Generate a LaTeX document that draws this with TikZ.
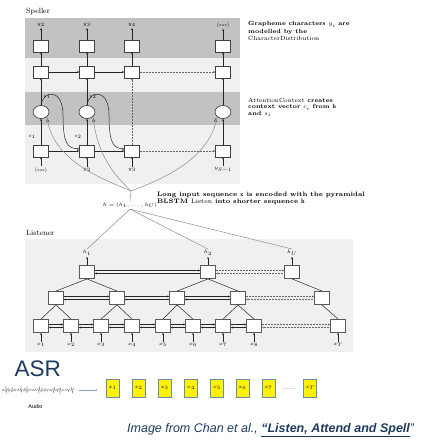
\documentclass[tikz,border=0pt]{standalone}
\usepackage{fontspec}
\newfontfamily\arial{Liberation Sans}
\usetikzlibrary{arrows.meta,shapes.geometric}
\definecolor{bandD}{gray}{0.76}
\definecolor{bandL}{gray}{0.94}
\definecolor{navy}{HTML}{1F3A5F}
\definecolor{boxblue}{HTML}{6A8CAA}
\begin{document}
\begin{tikzpicture}[x=1pt,y=-1pt,
 box/.style={draw=black!75, line width=0.7pt, fill=white, minimum width=15pt, minimum height=12pt, inner sep=0pt},
 lbox/.style={draw=black!65, line width=0.8pt, fill=white, minimum width=15pt, minimum height=13pt, inner sep=0pt},
 ell/.style={ellipse, draw=black!75, line width=0.7pt, fill=white, minimum width=16pt, minimum height=13pt, inner sep=0pt},
 arr/.style={-{Stealth[length=2pt,width=2pt]}, line width=0.5pt, black!85},
 dotarr/.style={arr, densely dotted, black!60},
 conn/.style={line width=0.5pt, black!85},
 graycurve/.style={line width=0.5pt, black!45},
 lbl/.style={font=\fontsize{4.2}{4.2}\selectfont, inner sep=1.2pt},
 note/.style={font=\fontsize{6}{7.5}\selectfont\bfseries, align=left, anchor=north west, inner sep=0pt},
 ybox/.style={draw=boxblue, line width=0.6pt, fill=yellow, minimum width=13pt, minimum height=18pt, inner sep=0pt, font=\fontsize{3.5}{3.5}\selectfont}
]
\useasboundingbox (0,0) rectangle (427,441);

% ---------- Speller ----------
\node[anchor=base west, font=\fontsize{7.5}{8}\selectfont, inner sep=0pt] (spl) at (26,14) {Speller};
\fill[bandD] (25,18) rectangle (240,58);
\fill[bandL] (25,58) rectangle (240,92);
\fill[bandD] (25,92) rectangle (240,125);
\fill[bandL] (25,125) rectangle (240,184);

\foreach \i/\x in {1/41,2/87,3/132,4/223} {
  \node[box] (t\i) at (\x,46) {};
  \node[box] (m\i) at (\x,72) {};
  \node[box] (b\i) at (\x,151) {};
}
\foreach \i/\x in {1/41,2/87,4/223} { \node[ell] (e\i) at (\x,112) {}; }

\node[lbl] (ly1) at (41,25) {$y_2$};
\node[lbl] (ly2) at (87,25) {$y_3$};
\node[lbl] (ly3) at (132,25) {$y_4$};
\node[lbl] (ly4) at (223,25) {$\langle\mathrm{eos}\rangle$};
\node[lbl] (lb1) at (41,170) {$\langle\mathrm{sos}\rangle$};
\node[lbl] (lb2) at (87,170) {$y_2$};
\node[lbl] (lb3) at (132,170) {$y_3$};
\node[lbl] (lb4) at (223,170) {$y_{S-1}$};

\foreach \i in {1,2,3,4} {
  \draw[arr] (t\i) -- (ly\i);
  \draw[arr] (m\i) -- (t\i);
  \draw[arr] (lb\i) -- (b\i);
}
\foreach \i in {1,2,4} {
  \draw[arr] (b\i) -- (e\i);
  \draw[arr] (e\i) -- (m\i);
}
\draw[dotarr] (b3) -- (m3);
\draw[arr] (m1) -- (m2); \draw[arr] (m2) -- (m3); \draw[dotarr] (m3) -- (m4);
\draw[arr] (b1) -- (b2); \draw[arr] (b2) -- (b3); \draw[dotarr] (b3) -- (b4);

% context curves
\draw[arr] (e1.north) .. controls (43,90) and (63,88) .. (63,115) .. controls (63,145) and (68,148) .. ([yshift=2pt]b2.west);
\draw[arr] (e2.north) .. controls (89,90) and (109,88) .. (109,115) .. controls (109,145) and (114,148) .. ([yshift=2pt]b3.west);

\node[lbl] (c1) at (47,97) {$c_1$};
\node[lbl] (c2) at (93,97) {$c_2$};
\node[lbl] (hl1) at (48,121) {$h$};
\node[lbl] (hl2) at (94,121) {$h$};
\node[lbl] (hl4) at (216,121) {$h$};
\node[lbl] (s1) at (32,137) {$s_1$};
\node[lbl] (s2) at (78,137) {$s_2$};

% attention curves to h
\coordinate (fork) at (131,191);
\draw[graycurve] (e1.south east) .. controls (52,160) and (100,178) .. (fork);
\draw[graycurve] (e2.south east) .. controls (98,160) and (118,178) .. (fork);
\draw[graycurve] (e4.south west) .. controls (210,160) and (160,180) .. (fork);
\node[lbl, font=\fontsize{4.2}{4.2}\selectfont] (hseq) at (130,205) {$h=(h_1,\ldots,h_U)$};
\draw[graycurve] (fork) -- (hseq.north);

% notes
\node[note] (n1) at (248,21.5) {Grapheme characters $y_i$ are\\modelled by the\\{\mdseries CharacterDistribution}};
\node[note, font=\fontsize{6}{6.3}\selectfont\bfseries] (n2) at (248,98) {{\mdseries AttentionContext} creates\\context vector $c_i$ from $\mathbf{h}$\\and $s_i$};
\node[note, font=\fontsize{6.4}{7}\selectfont\bfseries] (n3) at (157,192) {Long input sequence $\mathbf{x}$ is encoded with the pyramidal\\BLSTM {\mdseries Listen} into shorter sequence $\mathbf{h}$};

% ---------- Listener ----------
\node[anchor=base west, font=\fontsize{7.5}{8}\selectfont, inner sep=0pt] (lst) at (26,235.5) {Listener};
\fill[bandL] (25,239) rectangle (353,352);

\foreach \i/\x in {1/41,2/71,3/101,4/132,5/163,6/193,7/223,8/254,9/338} {
  \node[lbox] (A\i) at (\x,326) {};
}
\foreach \i/\x in {1/56,2/117,3/177,4/238,5/322} {
  \node[lbox] (B\i) at (\x,298) {};
}
\foreach \i/\x in {1/87,2/208,3/292} {
  \node[lbox] (C\i) at (\x,272) {};
}
\foreach \i/\t in {1/1,2/2,3/3,4/4,5/5,6/6,7/7,8/8,9/T} {
  \path (A\i) ++(0,19) node[lbl] (x\i) {$x_{\t}$};
  \draw[arr] (x\i) -- (A\i);
}
\node[lbl] (h1) at (87,253) {$h_1$};
\node[lbl] (h2) at (208,253) {$h_2$};
\node[lbl] (h3) at (292,253) {$h_U$};
\foreach \i in {1,2,3} { \draw[arr] (C\i) -- (h\i); }

\draw[graycurve] (hseq.south) -- (h1.north);
\draw[graycurve] (hseq.south) -- (h2.north);
\draw[graycurve] (hseq.south) -- (h3.north);

% pyramid links
\foreach \a/\b in {1/1,2/1,3/2,4/2,5/3,6/3,7/4,8/4,9/5} { \draw[conn] (A\a.north) -- (B\b.south); }
\foreach \a/\b in {1/1,2/1,3/2,4/2,5/3} { \draw[conn] (B\a.north) -- (C\b.south); }

% bidirectional links
\foreach \L/\a/\b in {A/1/2,A/2/3,A/3/4,A/4/5,A/5/6,A/6/7,A/7/8,B/1/2,B/2/3,B/3/4,C/1/2} {
  \draw[arr] ([yshift=1.5pt]\L\a.east) -- ([yshift=1.5pt]\L\b.west);
  \draw[arr] ([yshift=-1.5pt]\L\b.west) -- ([yshift=-1.5pt]\L\a.east);
}
\foreach \L/\a/\b in {A/8/9,B/4/5,C/2/3} {
  \draw[dotarr] ([yshift=1.5pt]\L\a.east) -- ([yshift=1.5pt]\L\b.west);
  \draw[dotarr] ([yshift=-1.5pt]\L\b.west) -- ([yshift=-1.5pt]\L\a.east);
}

% ---------- ASR ----------
\node[anchor=base west, font=\arial\fontsize{22.5}{22.5}\selectfont, text=navy, inner sep=0pt] (asr) at (14.5,376.7) {ASR};
\draw[black!45, line width=0.3pt] plot[domain=2:74, samples=300] (\x, {390 + (0.6+3.6*abs(sin(\x*11))*abs(cos(\x*27)))*(0.6*sin(10*mod(\x*17,36))+0.4*sin(10*mod(\x*29,36)))});
\node[font=\arial\fontsize{5.5}{5.5}\selectfont, inner sep=0pt] (audio) at (35.5,407) {Audio};
\coordinate (wend) at (79,390);
\coordinate (aend) at (97,390);
\draw[boxblue!80, line width=0.4pt, -{Circle[length=1.4pt]}] (wend) -- (aend);

\foreach \i/\x/\t in {1/112.5/1,2/138.7/2,3/164.7/3,4/191/4,5/217/5,6/242.3/6,7/268.3/7,8/310/T} {
  \node[ybox] (yb\i) at (\x,388) {$x_{\t}$};
}
\node[font=\fontsize{6}{6}\selectfont, inner sep=0pt] (dots) at (289,389) {......};

\node[anchor=base west, font=\arial\itshape\fontsize{12.5}{12.5}\selectfont, text=navy, inner sep=0pt] (cap) at (127,432.5) {Image from Chan et al., \underline{\textbf{“Listen, Attend and Spell}}”};
\end{tikzpicture}
\end{document}
